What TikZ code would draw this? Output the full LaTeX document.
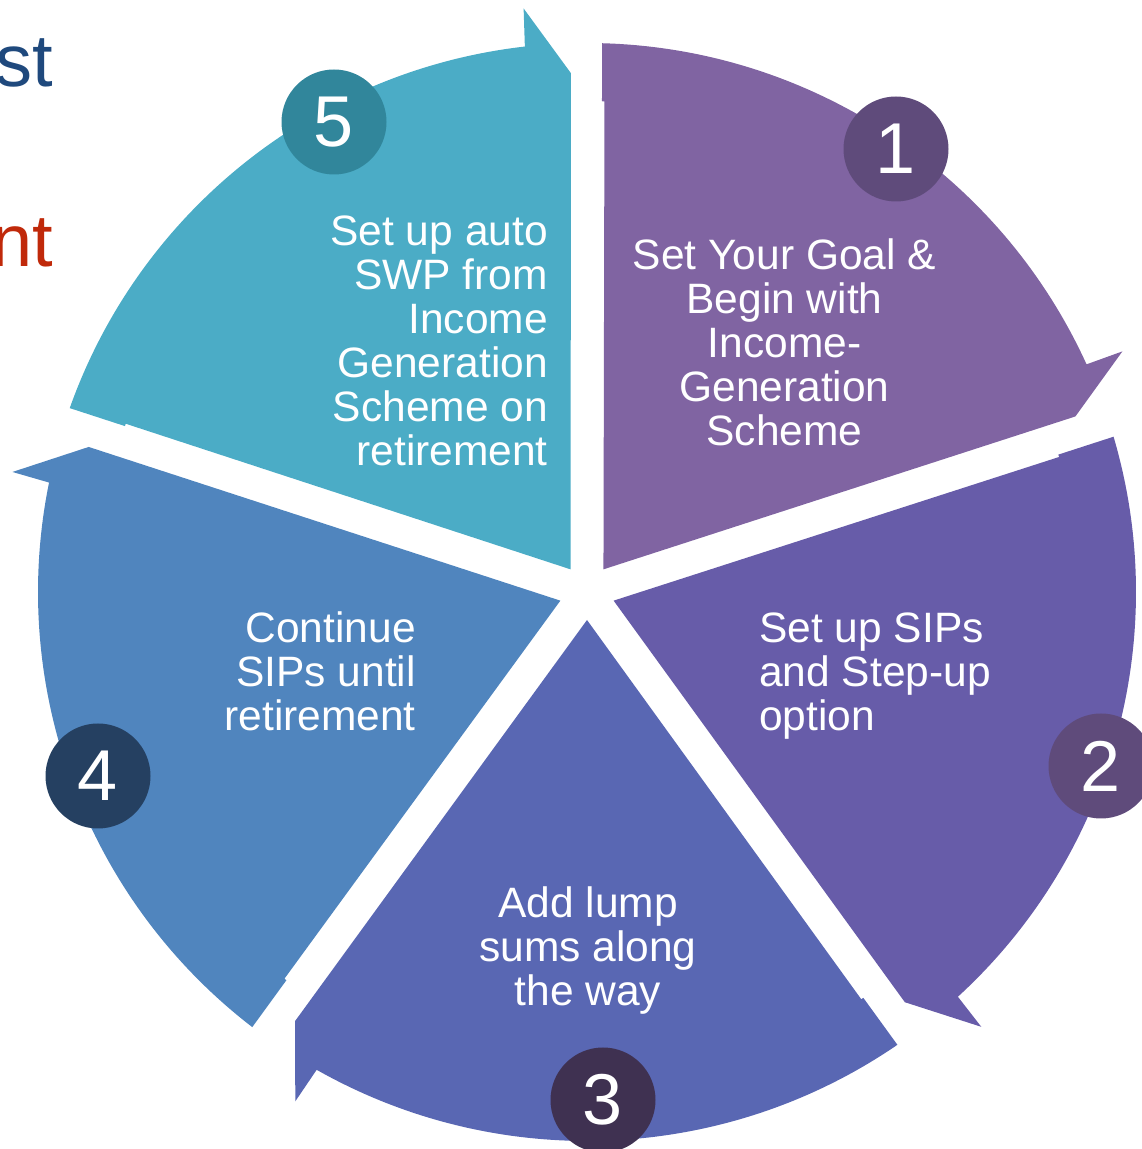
\documentclass[tikz,border=0pt]{standalone}
\usepackage{fontspec}
\setmainfont{Liberation Sans}
\usetikzlibrary{calc}
\definecolor{segone}{HTML}{8064A2}
\definecolor{segtwo}{HTML}{675CA9}
\definecolor{segthree}{HTML}{5967B3}
\definecolor{segfour}{HTML}{5085BE}
\definecolor{segfive}{HTML}{4BACC6}
\definecolor{circone}{HTML}{5F4B7B}
\definecolor{circtwo}{HTML}{5F4B7B}
\definecolor{circthree}{HTML}{3F3151}
\definecolor{circfour}{HTML}{254061}
\definecolor{circfive}{HTML}{31869B}
\definecolor{titleblue}{HTML}{1F497D}
\definecolor{titlered}{HTML}{C0290A}
\newcommand\cycseg[2]{%
  \fill[#2] ($(C)+({#1-36}:28)$) -- ($(C)+({#1-2.04}:491)$) -- ($(C)+({#1-1.75}:491)$) -- ($(C)+({#1-1.57}:549)$)
    arc[start angle={#1-1.57}, end angle={#1-65.5}, radius=549]
    -- ($(C)+({#1-65.8}:587)$) -- ($(C)+({#1-70.23}:519)$) -- cycle;}
\begin{document}
\begin{tikzpicture}[x=1pt,y=1pt,
  lbl/.style={text=white,font=\fontsize{42.5}{44}\selectfont,inner sep=0pt},
  num/.style={circle,minimum size=105pt,inner sep=0pt,text=white,font=\fontsize{72}{72}\selectfont},
  big/.style={inner sep=0pt,font=\fontsize{74}{80}\selectfont}]
\useasboundingbox (0,0) rectangle (1142,1149);
\clip (0,0) rectangle (1142,1149);
\coordinate (C) at (587,557);
\cycseg{90}{segone}
\cycseg{18}{segtwo}
\cycseg{-54}{segthree}
\cycseg{-126}{segfour}
\cycseg{162}{segfive}
\node[num,fill=circone] (n1) at (896,1000) {1};
\node[num,fill=circtwo] (n2) at (1101,383) {2};
\node[num,fill=circthree] (n3) at (603,49) {3};
\node[num,fill=circfour] (n4) at (98,373) {4};
\node[num,fill=circfive] (n5) at (334,1027) {5};
\node[lbl,align=center] (t1) at (784.5,807) {Set Your Goal \&\\Begin with\\Income-\\Generation\\Scheme};
\node[lbl,align=left,anchor=west] (t2) at (759,473) {Set up SIPs\\and Step-up\\option};
\node[lbl,align=center] (t3) at (588,198) {Add lump\\sums along\\the way};
\node[lbl,align=right,anchor=east] (t4) at (416,478) {Continue\\SIPs until\\retirement};
\node[lbl,align=right,anchor=east] (t5) at (548,808) {Set up auto\\SWP from\\Income\\Generation\\Scheme on\\retirement};
\node[big,text=titleblue,anchor=base east] (h1) at (53,1062) {st};
\node[big,text=titlered,anchor=base east] (h2) at (53,882) {nt};
\end{tikzpicture}
\end{document}
